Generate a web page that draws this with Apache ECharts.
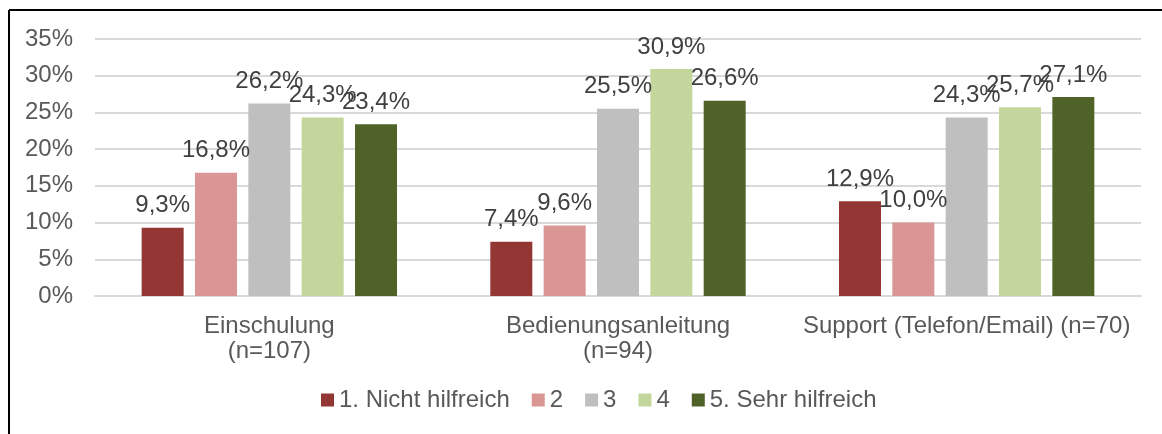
<!DOCTYPE html>
<html><head><meta charset="utf-8">
<script src="https://cdn.jsdelivr.net/npm/echarts@6/dist/echarts.min.js"></script>
<style>html,body{margin:0;padding:0;background:#fff}#c{width:1162px;height:434px}</style>
</head><body><div id="c"></div>
<script>
const categories = ['Einschulung\n(n=107)', 'Bedienungsanleitung\n(n=94)', 'Support (Telefon/Email) (n=70)'];
const seriesNames = ['1. Nicht hilfreich', '2', '3', '4', '5. Sehr hilfreich'];
const s1 = [9.3, 7.4, 12.9];
const s2 = [16.8, 9.6, 10.0];
const s3 = [26.2, 25.5, 24.3];
const s4 = [24.3, 30.9, 25.7];
const s5 = [23.4, 26.6, 27.1];
const colors = ['#943634', '#D99694', '#BFBFBF', '#C3D69B', '#4F6228'];
const yTicks = [0, 5, 10, 15, 20, 25, 30, 35];

const data = [s1, s2, s3, s4, s5];
const font = 'Liberation Sans, Arial, sans-serif';
const chart = echarts.init(document.getElementById('c'));
chart.setOption({
  animation: false,
  textStyle: { fontFamily: font },
  graphic: [
    { type: 'line', shape: { x1: 9, y1: 10, x2: 1162, y2: 10 }, style: { stroke: '#000', lineWidth: 2 } },
    { type: 'line', shape: { x1: 9, y1: 10, x2: 9, y2: 434 }, style: { stroke: '#000', lineWidth: 2 } }
  ],
  grid: { left: 95, right: 21, top: 39, bottom: 138 },
  legend: {
    data: seriesNames, bottom: 17, left: 316, itemWidth: 13, itemHeight: 13, itemGap: 22,
    icon: 'rect',
    textStyle: { fontSize: 24, color: '#595959', fontFamily: font }
  },
  xAxis: {
    type: 'category', data: categories,
    axisLine: { lineStyle: { color: '#D9D9D9', width: 2 } },
    axisTick: { show: false },
    axisLabel: { fontSize: 24, color: '#595959', margin: 18, lineHeight: 25, fontFamily: font, interval: 0, hideOverlap: false }
  },
  yAxis: {
    type: 'value', min: yTicks[0], max: yTicks[yTicks.length - 1], interval: 5,
    axisLine: { show: false }, axisTick: { show: false },
    splitLine: { lineStyle: { color: '#D9D9D9', width: 2 } },
    axisLabel: { fontSize: 24, color: '#595959', margin: 22, formatter: v => v + '%', fontFamily: font }
  },
  series: data.map((d, i) => ({
    name: seriesNames[i], type: 'bar', data: d, barWidth: 42, barGap: '27%',
    itemStyle: { color: colors[i] },
    label: {
      show: true, position: 'top', distance: 10, fontSize: 24, color: '#404040', fontFamily: font,
      formatter: p => p.value.toFixed(1).replace('.', ',') + '%'
    }
  }))
});
</script></body></html>
